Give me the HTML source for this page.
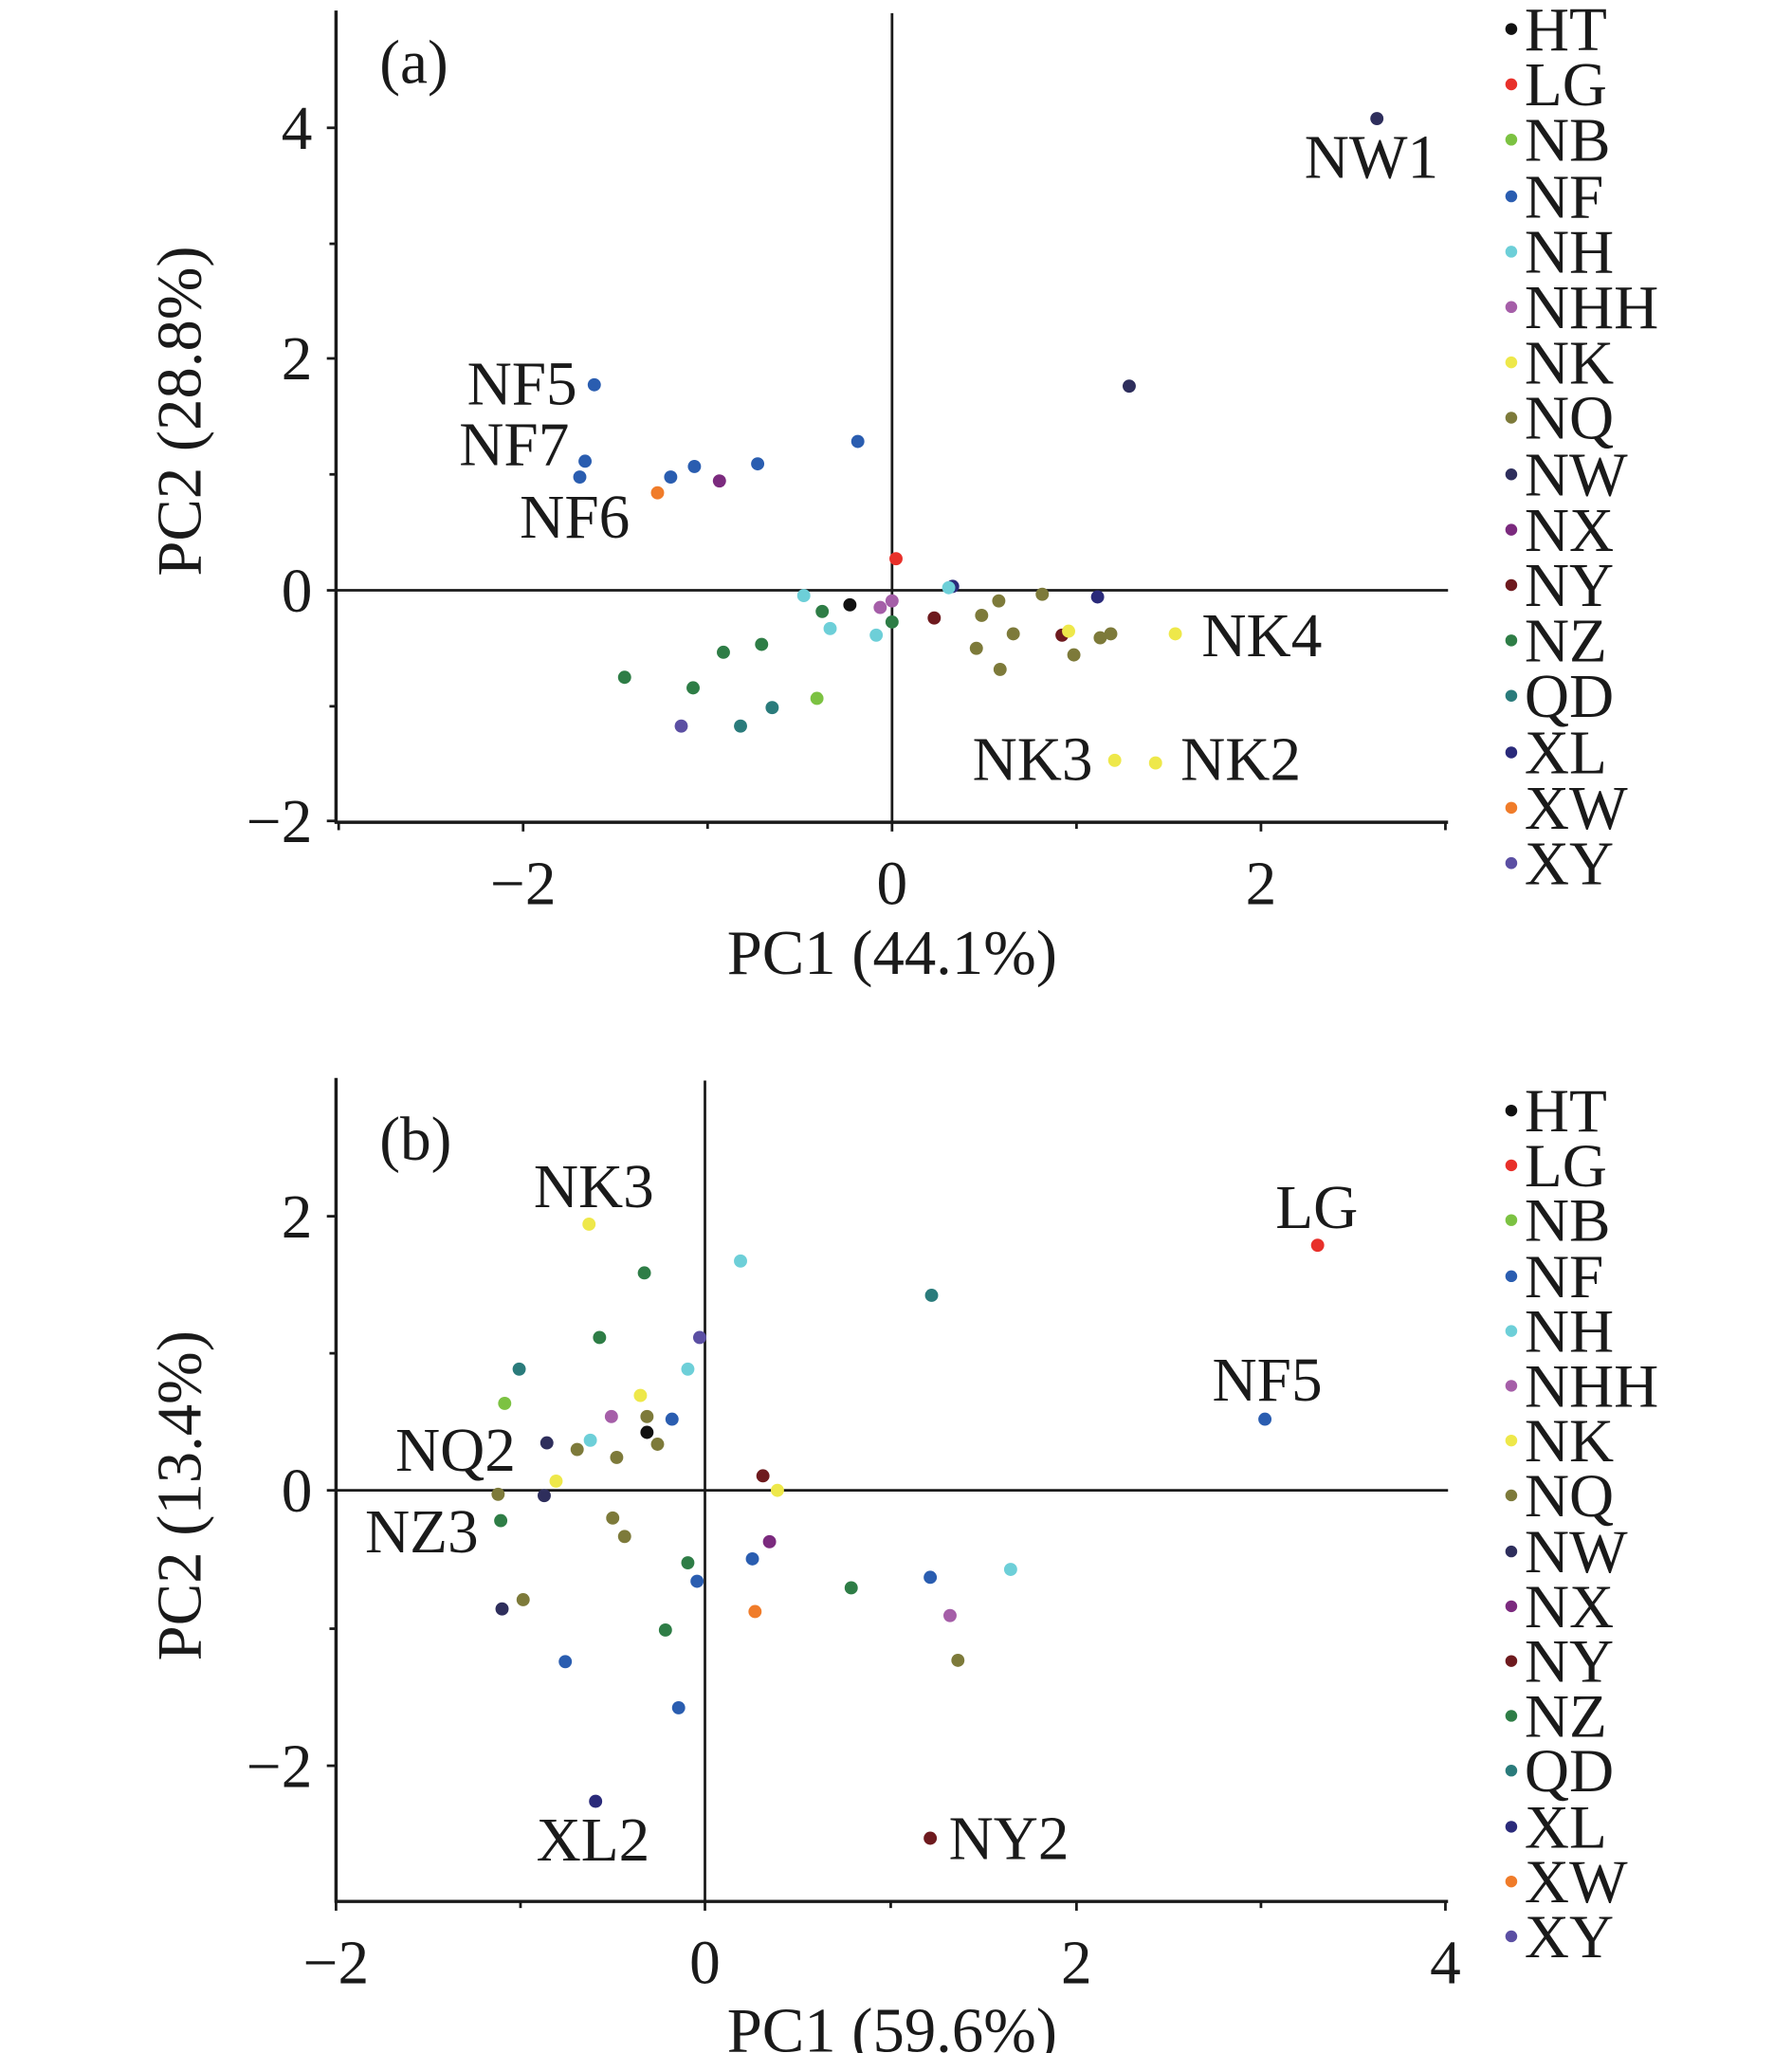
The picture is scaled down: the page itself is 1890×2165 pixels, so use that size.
<!DOCTYPE html>
<html><head><meta charset="utf-8"><style>html,body{margin:0;padding:0;background:#fff}svg{display:block}text{font-family:"Liberation Serif",serif;fill:#1a1a1a}</style></head>
<body>
<svg width="1890" height="2165" viewBox="0 0 1360 1558" xmlns="http://www.w3.org/2000/svg">
<g stroke="#1a1a1a" fill="none">
<line x1="255" y1="8" x2="255" y2="625" stroke-width="2.5"/>
<line x1="254" y1="624" x2="1099" y2="624" stroke-width="2.5"/>
<line x1="677" y1="10" x2="677" y2="624" stroke-width="2"/>
<line x1="255" y1="448" x2="1099" y2="448" stroke-width="2"/>
<g stroke-width="2">
<line x1="248" y1="97" x2="255" y2="97"/><line x1="250" y1="185" x2="255" y2="185"/><line x1="248" y1="272" x2="255" y2="272"/><line x1="250" y1="360" x2="255" y2="360"/><line x1="248" y1="448" x2="255" y2="448"/><line x1="250" y1="536" x2="255" y2="536"/><line x1="248" y1="623" x2="255" y2="623"/>
<line x1="257" y1="624" x2="257" y2="630"/><line x1="397" y1="624" x2="397" y2="631"/><line x1="537" y1="624" x2="537" y2="629"/><line x1="677" y1="624" x2="677" y2="631"/><line x1="817" y1="624" x2="817" y2="629"/><line x1="957" y1="624" x2="957" y2="631"/><line x1="1097" y1="624" x2="1097" y2="630"/>
</g>
<line x1="255" y1="818" x2="255" y2="1444" stroke-width="2.5"/>
<line x1="254" y1="1443" x2="1099" y2="1443" stroke-width="2.5"/>
<line x1="535" y1="820" x2="535" y2="1443" stroke-width="2"/>
<line x1="255" y1="1131" x2="1099" y2="1131" stroke-width="2"/>
<g stroke-width="2">
<line x1="248" y1="923" x2="255" y2="923"/><line x1="250" y1="1027" x2="255" y2="1027"/><line x1="248" y1="1131" x2="255" y2="1131"/><line x1="250" y1="1236" x2="255" y2="1236"/><line x1="248" y1="1340" x2="255" y2="1340"/>
<line x1="255" y1="1443" x2="255" y2="1450"/><line x1="395" y1="1443" x2="395" y2="1448"/><line x1="535" y1="1443" x2="535" y2="1450"/><line x1="676" y1="1443" x2="676" y2="1448"/><line x1="817" y1="1443" x2="817" y2="1450"/><line x1="957" y1="1443" x2="957" y2="1448"/><line x1="1097" y1="1443" x2="1097" y2="1450"/>
</g>
</g>
<g font-size="47" text-anchor="end">
<text x="237" y="113">4</text><text x="237" y="288">2</text><text x="237" y="464">0</text><text x="237" y="639">−2</text>
<text x="237" y="939">2</text><text x="237" y="1147">0</text><text x="237" y="1356">−2</text>
</g>
<g font-size="47" text-anchor="middle">
<text x="397" y="686">−2</text><text x="677" y="686">0</text><text x="957" y="686">2</text>
<text x="255" y="1505">−2</text><text x="535" y="1505">0</text><text x="817" y="1505">2</text><text x="1097" y="1505">4</text>
<text x="677" y="739" font-size="48">PC1 (44.1%)</text>
<text x="677" y="1557" font-size="48">PC1 (59.6%)</text>
<text transform="translate(152,312) rotate(-90)" font-size="48">PC2 (28.8%)</text>
<text transform="translate(152,1135) rotate(-90)" font-size="48">PC2 (13.4%)</text>
</g>
<g font-size="47">
<text x="288" y="63">(a)</text><text x="288" y="880">(b)</text>
<text x="990" y="135">NW1</text>
<text x="438" y="307" text-anchor="end">NF5</text>
<text x="432" y="353" text-anchor="end">NF7</text>
<text x="478" y="408" text-anchor="end">NF6</text>
<text x="912" y="498">NK4</text>
<text x="738" y="592">NK3</text><text x="896" y="592">NK2</text>
<text x="405" y="916">NK3</text><text x="968" y="932">LG</text><text x="920" y="1063">NF5</text>
<text x="300" y="1116">NQ2</text><text x="277" y="1178">NZ3</text>
<text x="407" y="1412">XL2</text><text x="720" y="1411">NY2</text>
</g>
<g font-size="47">
<g>
<circle cx="1147" cy="22" r="4.5" fill="#111"/><text x="1157" y="38">HT</text>
<circle cx="1147" cy="64" r="4.5" fill="#e8302a"/><text x="1157" y="80">LG</text>
<circle cx="1147" cy="106" r="4.5" fill="#7cc242"/><text x="1157" y="122">NB</text>
<circle cx="1147" cy="149" r="4.5" fill="#2a5db0"/><text x="1157" y="165">NF</text>
<circle cx="1147" cy="191" r="4.5" fill="#6dcfd8"/><text x="1157" y="207">NH</text>
<circle cx="1147" cy="233" r="4.5" fill="#a55ea8"/><text x="1157" y="249">NHH</text>
<circle cx="1147" cy="275" r="4.5" fill="#eee84a"/><text x="1157" y="291">NK</text>
<circle cx="1147" cy="317" r="4.5" fill="#7d7a3a"/><text x="1157" y="333">NQ</text>
<circle cx="1147" cy="360" r="4.5" fill="#2e2e5c"/><text x="1157" y="376">NW</text>
<circle cx="1147" cy="402" r="4.5" fill="#7b2a7e"/><text x="1157" y="418">NX</text>
<circle cx="1147" cy="444" r="4.5" fill="#6e1a1e"/><text x="1157" y="460">NY</text>
<circle cx="1147" cy="486" r="4.5" fill="#2e7d46"/><text x="1157" y="502">NZ</text>
<circle cx="1147" cy="528" r="4.5" fill="#2a7b7b"/><text x="1157" y="544">QD</text>
<circle cx="1147" cy="571" r="4.5" fill="#2a2a7a"/><text x="1157" y="587">XL</text>
<circle cx="1147" cy="613" r="4.5" fill="#f07c2a"/><text x="1157" y="629">XW</text>
<circle cx="1147" cy="655" r="4.5" fill="#5b4fa3"/><text x="1157" y="671">XY</text>
</g>
<g transform="translate(0,821) scale(1,0.99)">
<circle cx="1147" cy="22" r="4.5" fill="#111"/><text x="1157" y="38">HT</text>
<circle cx="1147" cy="64" r="4.5" fill="#e8302a"/><text x="1157" y="80">LG</text>
<circle cx="1147" cy="106" r="4.5" fill="#7cc242"/><text x="1157" y="122">NB</text>
<circle cx="1147" cy="149" r="4.5" fill="#2a5db0"/><text x="1157" y="165">NF</text>
<circle cx="1147" cy="191" r="4.5" fill="#6dcfd8"/><text x="1157" y="207">NH</text>
<circle cx="1147" cy="233" r="4.5" fill="#a55ea8"/><text x="1157" y="249">NHH</text>
<circle cx="1147" cy="275" r="4.5" fill="#eee84a"/><text x="1157" y="291">NK</text>
<circle cx="1147" cy="317" r="4.5" fill="#7d7a3a"/><text x="1157" y="333">NQ</text>
<circle cx="1147" cy="360" r="4.5" fill="#2e2e5c"/><text x="1157" y="376">NW</text>
<circle cx="1147" cy="402" r="4.5" fill="#7b2a7e"/><text x="1157" y="418">NX</text>
<circle cx="1147" cy="444" r="4.5" fill="#6e1a1e"/><text x="1157" y="460">NY</text>
<circle cx="1147" cy="486" r="4.5" fill="#2e7d46"/><text x="1157" y="502">NZ</text>
<circle cx="1147" cy="528" r="4.5" fill="#2a7b7b"/><text x="1157" y="544">QD</text>
<circle cx="1147" cy="571" r="4.5" fill="#2a2a7a"/><text x="1157" y="587">XL</text>
<circle cx="1147" cy="613" r="4.5" fill="#f07c2a"/><text x="1157" y="629">XW</text>
<circle cx="1147" cy="655" r="4.5" fill="#5b4fa3"/><text x="1157" y="671">XY</text>
</g>
</g>
<g>
<circle cx="1045" cy="90" r="5" fill="#2e2e5c"/>
<circle cx="857" cy="293" r="5" fill="#2e2e5c"/>
<circle cx="451" cy="292" r="5" fill="#2a5db0"/>
<circle cx="444" cy="350" r="5" fill="#2a5db0"/>
<circle cx="440" cy="362" r="5" fill="#2a5db0"/>
<circle cx="509" cy="362" r="5" fill="#2a5db0"/>
<circle cx="527" cy="354" r="5" fill="#2a5db0"/>
<circle cx="575" cy="352" r="5" fill="#2a5db0"/>
<circle cx="651" cy="335" r="5" fill="#2a5db0"/>
<circle cx="499" cy="374" r="5" fill="#f07c2a"/>
<circle cx="546" cy="365" r="5" fill="#7b2a7e"/>
<circle cx="680" cy="424" r="5" fill="#e8302a"/>
<circle cx="723" cy="445" r="5" fill="#2a2a7a"/>
<circle cx="720" cy="446" r="5" fill="#6dcfd8"/>
<circle cx="610" cy="452" r="5" fill="#6dcfd8"/>
<circle cx="645" cy="459" r="5" fill="#111"/>
<circle cx="668" cy="461" r="5" fill="#a55ea8"/>
<circle cx="677" cy="456" r="5" fill="#a55ea8"/>
<circle cx="624" cy="464" r="5" fill="#2e7d46"/>
<circle cx="630" cy="477" r="5" fill="#6dcfd8"/>
<circle cx="665" cy="482" r="5" fill="#6dcfd8"/>
<circle cx="677" cy="472" r="5" fill="#2e7d46"/>
<circle cx="709" cy="469" r="5" fill="#6e1a1e"/>
<circle cx="745" cy="467" r="5" fill="#7d7a3a"/>
<circle cx="758" cy="456" r="5" fill="#7d7a3a"/>
<circle cx="791" cy="451" r="5" fill="#7d7a3a"/>
<circle cx="741" cy="492" r="5" fill="#7d7a3a"/>
<circle cx="769" cy="481" r="5" fill="#7d7a3a"/>
<circle cx="759" cy="508" r="5" fill="#7d7a3a"/>
<circle cx="815" cy="497" r="5" fill="#7d7a3a"/>
<circle cx="835" cy="484" r="5" fill="#7d7a3a"/>
<circle cx="843" cy="481" r="5" fill="#7d7a3a"/>
<circle cx="833" cy="453" r="5" fill="#2a2a7a"/>
<circle cx="806" cy="482" r="5" fill="#6e1a1e"/>
<circle cx="811" cy="479" r="5" fill="#eee84a"/>
<circle cx="892" cy="481" r="5" fill="#eee84a"/>
<circle cx="549" cy="495" r="5" fill="#2e7d46"/>
<circle cx="578" cy="489" r="5" fill="#2e7d46"/>
<circle cx="474" cy="514" r="5" fill="#2e7d46"/>
<circle cx="526" cy="522" r="5" fill="#2e7d46"/>
<circle cx="586" cy="537" r="5" fill="#2a7b7b"/>
<circle cx="562" cy="551" r="5" fill="#2a7b7b"/>
<circle cx="620" cy="530" r="5" fill="#7cc242"/>
<circle cx="517" cy="551" r="5" fill="#5b4fa3"/>
<circle cx="846" cy="577" r="5" fill="#eee84a"/>
<circle cx="877" cy="579" r="5" fill="#eee84a"/>
</g>
<g>
<circle cx="447" cy="929" r="5" fill="#eee84a"/>
<circle cx="489" cy="966" r="5" fill="#2e7d46"/>
<circle cx="562" cy="957" r="5" fill="#6dcfd8"/>
<circle cx="707" cy="983" r="5" fill="#2a7b7b"/>
<circle cx="455" cy="1015" r="5" fill="#2e7d46"/>
<circle cx="531" cy="1015" r="5" fill="#5b4fa3"/>
<circle cx="394" cy="1039" r="5" fill="#2a7b7b"/>
<circle cx="522" cy="1039" r="5" fill="#6dcfd8"/>
<circle cx="383" cy="1065" r="5" fill="#7cc242"/>
<circle cx="486" cy="1059" r="5" fill="#eee84a"/>
<circle cx="464" cy="1075" r="5" fill="#a55ea8"/>
<circle cx="491" cy="1075" r="5" fill="#7d7a3a"/>
<circle cx="510" cy="1077" r="5" fill="#2a5db0"/>
<circle cx="491" cy="1087" r="5" fill="#111"/>
<circle cx="415" cy="1095" r="5" fill="#2e2e5c"/>
<circle cx="448" cy="1093" r="5" fill="#6dcfd8"/>
<circle cx="438" cy="1100" r="5" fill="#7d7a3a"/>
<circle cx="468" cy="1106" r="5" fill="#7d7a3a"/>
<circle cx="499" cy="1096" r="5" fill="#7d7a3a"/>
<circle cx="422" cy="1124" r="5" fill="#eee84a"/>
<circle cx="378" cy="1134" r="5" fill="#7d7a3a"/>
<circle cx="413" cy="1135" r="5" fill="#2e2e5c"/>
<circle cx="579" cy="1120" r="5" fill="#6e1a1e"/>
<circle cx="590" cy="1131" r="5" fill="#eee84a"/>
<circle cx="380" cy="1154" r="5" fill="#2e7d46"/>
<circle cx="465" cy="1152" r="5" fill="#7d7a3a"/>
<circle cx="474" cy="1166" r="5" fill="#7d7a3a"/>
<circle cx="584" cy="1170" r="5" fill="#7b2a7e"/>
<circle cx="571" cy="1183" r="5" fill="#2a5db0"/>
<circle cx="522" cy="1186" r="5" fill="#2e7d46"/>
<circle cx="529" cy="1200" r="5" fill="#2a5db0"/>
<circle cx="646" cy="1205" r="5" fill="#2e7d46"/>
<circle cx="706" cy="1197" r="5" fill="#2a5db0"/>
<circle cx="767" cy="1191" r="5" fill="#6dcfd8"/>
<circle cx="573" cy="1223" r="5" fill="#f07c2a"/>
<circle cx="721" cy="1226" r="5" fill="#a55ea8"/>
<circle cx="381" cy="1221" r="5" fill="#2e2e5c"/>
<circle cx="397" cy="1214" r="5" fill="#7d7a3a"/>
<circle cx="505" cy="1237" r="5" fill="#2e7d46"/>
<circle cx="429" cy="1261" r="5" fill="#2a5db0"/>
<circle cx="727" cy="1260" r="5" fill="#7d7a3a"/>
<circle cx="515" cy="1296" r="5" fill="#2a5db0"/>
<circle cx="452" cy="1367" r="5" fill="#2a2a7a"/>
<circle cx="706" cy="1395" r="5" fill="#6e1a1e"/>
<circle cx="1000" cy="945" r="5" fill="#e8302a"/>
<circle cx="960" cy="1077" r="5" fill="#2a5db0"/>
</g>
</svg>
</body></html>
